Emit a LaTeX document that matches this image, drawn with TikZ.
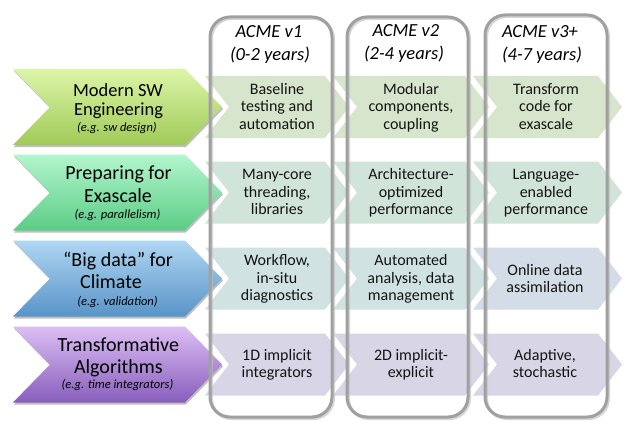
\documentclass[tikz,border=0pt]{standalone}
\usepackage{fontspec}
\setmainfont{Carlito}
\usetikzlibrary{shadows}
\definecolor{g1t}{RGB}{220,245,168}
\definecolor{g1b}{RGB}{160,202,88}
\definecolor{g2t}{RGB}{178,246,205}
\definecolor{g2b}{RGB}{92,204,134}
\definecolor{g3t}{RGB}{176,214,242}
\definecolor{g3b}{RGB}{88,148,200}
\definecolor{g4t}{RGB}{220,190,244}
\definecolor{g4b}{RGB}{136,94,188}
\definecolor{s1}{RGB}{215,229,204}
\definecolor{s2}{RGB}{209,228,218}
\definecolor{s3}{RGB}{208,227,226}
\definecolor{s3b}{RGB}{212,221,231}
\definecolor{s4}{RGB}{216,214,230}
\definecolor{colline}{RGB}{160,160,160}
\newcommand\bigchev[3]{%
  \path[top color=#2,bottom color=#3,
        drop shadow={shadow xshift=1pt,shadow yshift=-2pt,opacity=0.25,fill=black}]
    (13,#1-38) -- (185,#1-38) -- (222,#1) -- (185,#1+38) -- (13,#1+38) -- (50,#1) -- cycle;}
\newcommand\smallchev[4]{%
  \fill[#4] (#1,#3-31) -- (#2,#3-31) -- (#2+24,#3) -- (#2,#3+31) -- (#1,#3+31) -- (#1+24,#3) -- cycle;}
\newcommand\column[3]{%
  \draw[colline!70,line width=3pt,opacity=0.6,rounded corners=20pt]
    (#1+1.5,#3+1.5) rectangle (#2+1.5,417+1.5);
  \draw[colline,line width=3pt,rounded corners=20pt] (#1,#3) rectangle (#2,417);}
\begin{document}
\begin{tikzpicture}[x=1pt,y=-1pt,
  bigt/.style={font=\fontsize{20}{24}\selectfont,anchor=base,inner sep=0pt},
  bigo/.style={font=\fontsize{18.5}{20}\selectfont,anchor=base,inner sep=0pt},
  subt/.style={font=\fontsize{12.5}{14}\selectfont\itshape,anchor=base,inner sep=0pt},
  smt/.style={font=\fontsize{16}{17}\selectfont,text=black!92,anchor=base,inner sep=0pt},
  hdr/.style={font=\fontsize{18.5}{22}\selectfont\itshape,anchor=base,inner sep=0pt}]
\useasboundingbox (0,0) rectangle (631,433);
\fill[white] (0,0) rectangle (631,433);
% small chevrons
\smallchev{205}{325}{107}{s1}
\smallchev{333}{465}{107}{s1}
\smallchev{473}{598}{107}{s1}
\smallchev{205}{325}{192.5}{s2}
\smallchev{333}{465}{192.5}{s2}
\smallchev{473}{598}{192.5}{s2}
\smallchev{205}{325}{278.5}{s3}
\smallchev{333}{465}{278.5}{s3}
\smallchev{473}{598}{278.5}{s3b}
\smallchev{205}{325}{364.5}{s4}
\smallchev{333}{465}{364.5}{s4}
\smallchev{473}{598}{364.5}{s4}
% big chevrons
\bigchev{107}{g1t}{g1b}
\bigchev{192.5}{g2t}{g2b}
\bigchev{278.5}{g3t}{g3b}
\bigchev{364.5}{g4t}{g4b}
% columns
\column{210}{332}{17}
\column{347}{468}{17}
\column{485}{607}{15}
% headers
\node[hdr] (h1a) at (269,38) {ACME v1};
\node[hdr] (h1b) at (270,61) {(0-2 years)};
\node[hdr] (h2a) at (406,36.5) {ACME v2};
\node[hdr] (h2b) at (404,60) {(2-4 years)};
\node[hdr] (h3a) at (540,38) {ACME v3+};
\node[hdr] (h3b) at (542,61) {(4-7 years)};
% big texts
\node[bigo] (b1a) at (118,96.7) {Modern SW};
\node[bigo] (b1b) at (118.5,115) {Engineering};
\node[subt] (b1c) at (117,131.7) {(e.g. sw design)};
\node[bigt] (b2a) at (118.5,179.5) {Preparing for};
\node[bigt] (b2b) at (118,202.7) {Exascale};
\node[subt] (b2c) at (117.5,218) {(e.g. parallelism)};
\node[bigt] (b3a) at (118,266.7) {“Big data” for};
\node[bigt] (b3b) at (111,288.3) {Climate};
\node[subt] (b3c) at (117.5,305) {(e.g. validation)};
\node[bigt] (b4a) at (118.3,351.7) {Transformative};
\node[bigt] (b4b) at (118.3,373.3) {Algorithms};
\node[subt] (b4c) at (117.5,388.3) {(e.g. time integrators)};
% row 1 small texts
\node[smt] (t11a) at (277,95) {Baseline};
\node[smt] (t11b) at (277,112) {testing and};
\node[smt] (t11c) at (277,129) {automation};
\node[smt] (t12a) at (411,95) {Modular};
\node[smt] (t12b) at (411,112) {components,};
\node[smt] (t12c) at (411,129) {coupling};
\node[smt] (t13a) at (546,95) {Transform};
\node[smt] (t13b) at (546,112) {code for};
\node[smt] (t13c) at (546,129) {exascale};
% row 2
\node[smt] (t21a) at (277,179.5) {Many-core};
\node[smt] (t21b) at (277,197) {threading,};
\node[smt] (t21c) at (277,214.3) {libraries};
\node[smt] (t22a) at (411,179.5) {Architecture-};
\node[smt] (t22b) at (411,197) {optimized};
\node[smt] (t22c) at (411,214.3) {performance};
\node[smt] (t23a) at (546,179.5) {Language-};
\node[smt] (t23b) at (546,197) {enabled};
\node[smt] (t23c) at (546,214.3) {performance};
% row 3
\node[smt] (t31a) at (277,265.5) {Workflow,};
\node[smt] (t31b) at (277,283) {in-situ};
\node[smt] (t31c) at (277,300.3) {diagnostics};
\node[smt] (t32a) at (411,265.5) {Automated};
\node[smt] (t32b) at (411,283) {analysis, data};
\node[smt] (t32c) at (411,300.3) {management};
\node[smt] (t33a) at (545,275) {Online data};
\node[smt] (t33b) at (545,292.5) {assimilation};
% row 4
\node[smt] (t41a) at (277,360.3) {1D implicit};
\node[smt] (t41b) at (277,377.7) {integrators};
\node[smt] (t42a) at (411,360.3) {2D implicit-};
\node[smt] (t42b) at (411,377.7) {explicit};
\node[smt] (t43a) at (545,360.3) {Adaptive,};
\node[smt] (t43b) at (545,377.7) {stochastic};
\end{tikzpicture}
\end{document}
